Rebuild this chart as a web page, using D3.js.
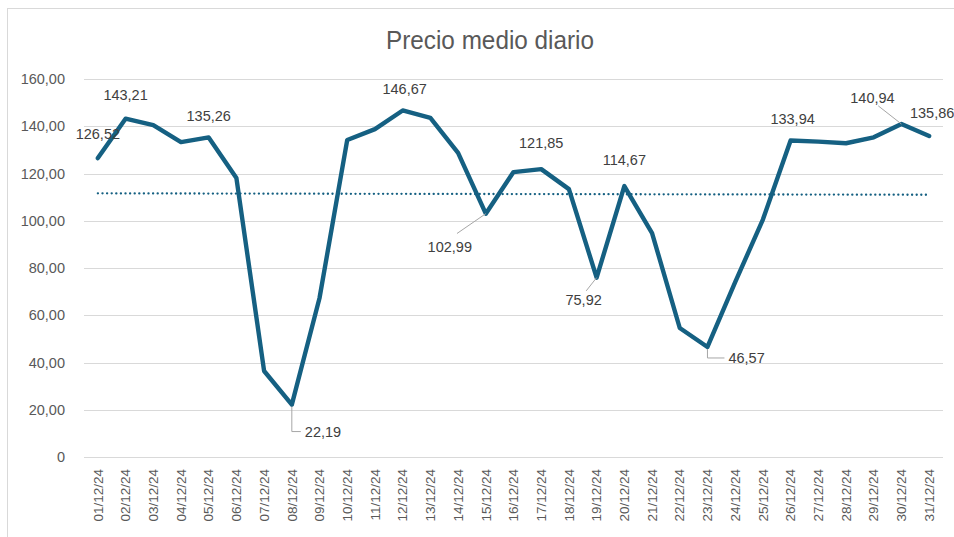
<!DOCTYPE html>
<html>
<head>
<meta charset="utf-8">
<script src="https://cdn.jsdelivr.net/npm/d3@7"></script>
<style>
  body { margin: 0; background: #fff; }
  svg { display: block; font-family: "Liberation Sans", Arial, sans-serif; }
</style>
</head>
<body>
<svg id="chart" width="954" height="537"></svg>
<script>
// daily dates and average prices
const dates = ["01/12/24","02/12/24","03/12/24","04/12/24","05/12/24","06/12/24","07/12/24","08/12/24",
  "09/12/24","10/12/24","11/12/24","12/12/24","13/12/24","14/12/24","15/12/24","16/12/24","17/12/24",
  "18/12/24","19/12/24","20/12/24","21/12/24","22/12/24","23/12/24","24/12/24","25/12/24","26/12/24",
  "27/12/24","28/12/24","29/12/24","30/12/24","31/12/24"];
const precios = [126.52, 143.21, 140.5, 133.3, 135.26, 118.1, 36.4, 22.19, 67.3, 134.2, 138.8, 146.67,
  143.5, 128.7, 102.99, 120.6, 121.85, 113.4, 75.92, 114.67, 94.8, 54.6, 46.57, 74.0, 100.5, 133.94,
  133.5, 132.8, 135.3, 140.94, 135.86];
// dotted trend line, value at first and last day
const tendencia = [111.6, 111.0];
const yTicks = [0, 20, 40, 60, 80, 100, 120, 140, 160];

// labelled points: index, offset of text from point, leader line or not
const etiquetas = [
  { i: 0,  dx: 0,   dy: -24 },
  { i: 1,  dx: 0,   dy: -24 },
  { i: 4,  dx: 0,   dy: -22 },
  { i: 7,  dx: 13,  dy: 27, leader: "elbow" },
  { i: 11, dx: 2,   dy: -22 },
  { i: 14, dx: -36, dy: 33, leader: "slant" },
  { i: 16, dx: 0,   dy: -26 },
  { i: 18, dx: -13, dy: 22, leader: "slant" },
  { i: 19, dx: 0,   dy: -26 },
  { i: 22, dx: 21,  dy: 11, leader: "elbow" },
  { i: 25, dx: 2,   dy: -22 },
  { i: 29, dx: -29, dy: -26, leader: "slant" },
  { i: 30, dx: 3,   dy: -23 }
];

const svg = d3.select("#chart");
const W = 954, H = 537;
const margin = { left: 84, right: 11, top: 79, bottom: 80 };
const textColor = "#595959";
const lineColor = "#156082";
const fmt = v => v === 0 ? "0" : v.toFixed(2).replace(".", ",");

// chart frame
svg.append("rect")
  .attr("x", 7.5).attr("y", 8.5)
  .attr("width", W).attr("height", H)
  .attr("fill", "none").attr("stroke", "#d9d9d9");

svg.append("text")
  .attr("x", 490).attr("y", 49)
  .attr("text-anchor", "middle")
  .attr("fill", textColor)
  .attr("font-size", "25px")
  .attr("textLength", 208)
  .attr("lengthAdjust", "spacingAndGlyphs")
  .text("Precio medio diario");

const x = d3.scaleBand().domain(dates).range([margin.left, W - margin.right]);
const y = d3.scaleLinear().domain([0, 160]).range([H - margin.bottom, margin.top]);
const cx = d => x(d) + x.bandwidth() / 2;

// gridlines
svg.append("g")
  .selectAll("line")
  .data(yTicks)
  .enter().append("line")
  .attr("x1", margin.left).attr("x2", W - margin.right)
  .attr("y1", d => Math.round(y(d)) + 0.5).attr("y2", d => Math.round(y(d)) + 0.5)
  .attr("stroke", "#d9d9d9").attr("stroke-width", 1);

// y axis labels
const yAxis = svg.append("g")
  .attr("transform", `translate(${margin.left - 16},0)`)
  .call(d3.axisLeft(y).tickValues(yTicks).tickFormat(fmt).tickSize(0));
yAxis.select(".domain").remove();
yAxis.selectAll("text")
  .attr("fill", textColor).attr("font-size", "14.5px")
  .attr("font-family", "'Liberation Sans', sans-serif");

// x axis labels, rotated
const xAxis = svg.append("g")
  .attr("transform", `translate(0,${H - margin.bottom})`)
  .call(d3.axisBottom(x).tickSize(0));
xAxis.select(".domain").remove();
xAxis.selectAll("text")
  .attr("fill", textColor).attr("font-size", "13.5px")
  .attr("font-family", "'Liberation Sans', sans-serif")
  .attr("transform", "rotate(-90)")
  .attr("text-anchor", "end")
  .attr("x", -12).attr("y", 0).attr("dy", "0.35em");

// trend line
svg.append("line")
  .attr("x1", cx(dates[0])).attr("x2", cx(dates[dates.length - 1]))
  .attr("y1", y(tendencia[0])).attr("y2", y(tendencia[1]))
  .attr("stroke", lineColor).attr("stroke-width", 2.3)
  .attr("stroke-dasharray", "0.1 4.5").attr("stroke-linecap", "round");

// price line
const line = d3.line().x((d, i) => cx(dates[i])).y(d => y(d));
svg.append("path")
  .datum(precios)
  .attr("d", line)
  .attr("fill", "none")
  .attr("stroke", lineColor).attr("stroke-width", 4.4)
  .attr("stroke-linejoin", "round").attr("stroke-linecap", "round");

// leader lines
const lead = svg.append("g");
etiquetas.filter(e => e.leader).forEach(e => {
  const px = cx(dates[e.i]), py = y(precios[e.i]);
  if (e.leader === "elbow") {
    const ty = py + e.dy;
    lead.append("path")
      .attr("d", `M${px},${py + 2}V${ty}H${px + e.dx - 4}`)
      .attr("fill", "none").attr("stroke", "#a6a6a6").attr("stroke-width", 1);
  } else {
    const tx = px + e.dx * 0.8, ty = py + e.dy * (e.dy > 0 ? 0.6 : 0.7);
    lead.append("line")
      .attr("x1", px).attr("y1", py)
      .attr("x2", tx).attr("y2", ty)
      .attr("stroke", "#a6a6a6").attr("stroke-width", 1);
  }
});

// data labels
svg.append("g")
  .selectAll("text")
  .data(etiquetas)
  .enter().append("text")
  .attr("x", e => cx(dates[e.i]) + e.dx)
  .attr("y", e => y(precios[e.i]) + e.dy)
  .attr("dy", "0.35em")
  .attr("text-anchor", e => e.leader === "elbow" ? "start" : "middle")
  .attr("fill", "#404040").attr("font-size", "14.5px")
  .text(e => fmt(precios[e.i]));
</script>
</body>
</html>
